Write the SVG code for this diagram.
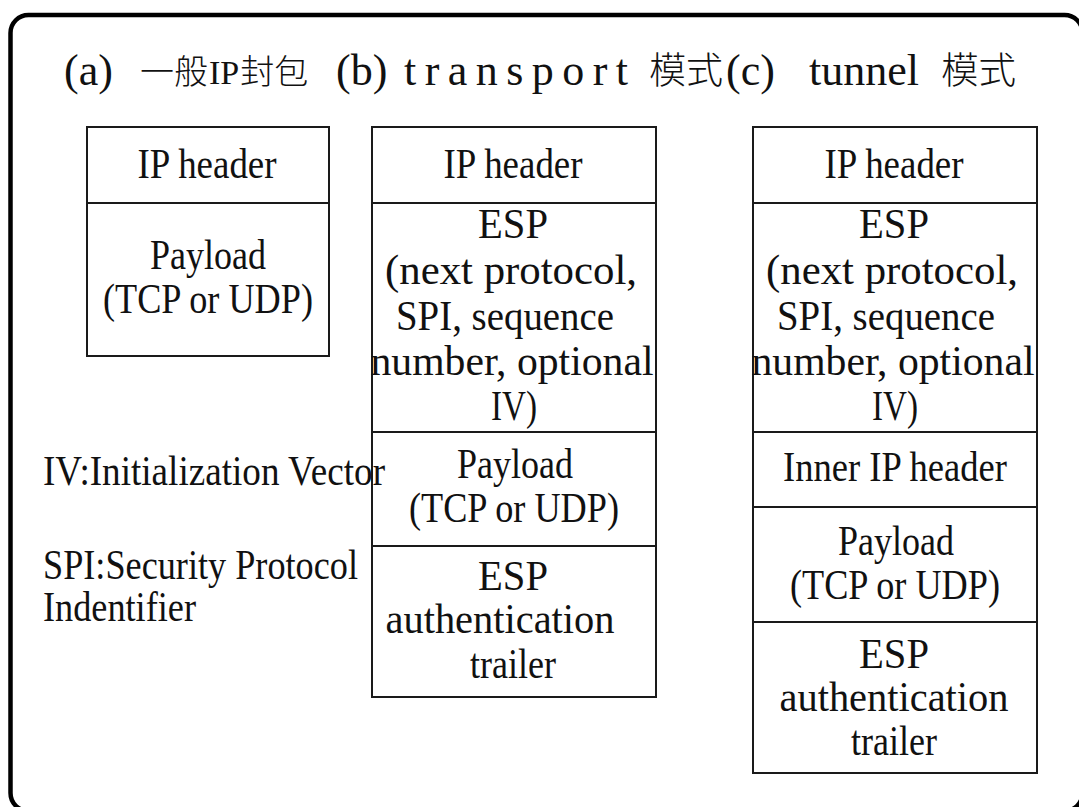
<svg xmlns="http://www.w3.org/2000/svg" width="1079" height="807" viewBox="0 0 1079 807">
  <style>
    .frame { fill: none; stroke: #000; stroke-width: 4.5; }
    .box { fill: none; stroke: #1a1a1a; stroke-width: 2; }
    .lbl { font-family: "Liberation Serif", "Times New Roman", serif; font-size: 42px; fill: #111; text-anchor: middle; }
    .note { font-family: "Liberation Serif", "Times New Roman", serif; font-size: 42px; fill: #111; }
    .tl { font-family: "Liberation Serif", "Times New Roman", serif; font-size: 44px; fill: #111; }
    .tc { font-family: "Noto Sans CJK TC", "Noto Sans CJK SC", sans-serif; font-size: 37px; fill: #111; font-weight: 300; }
    .tip { font-family: "Liberation Serif", "Times New Roman", serif; font-size: 34px; font-weight: normal; }
  </style>
  <rect width="1079" height="807" fill="#fff"/>

  <!-- outer rounded frame -->
  <rect class="frame" x="10.5" y="15" width="1072" height="796" rx="18" ry="18"/>

  <!-- title line -->
  <g id="title">
    <text class="tl" x="64" y="85">(a)</text>
    <text class="tc" x="140" y="84" style="font-size:34px">一般<tspan class="tip" dx="1">IP</tspan><tspan dx="1">封包</tspan></text>
    <text class="tl" x="336" y="85">(b)</text>
    <text class="tl" x="404" y="85" textLength="224" lengthAdjust="spacing">transport</text>
    <text class="tc" x="649" y="84" textLength="74" lengthAdjust="spacingAndGlyphs">模式</text>
    <text class="tl" x="726" y="85">(c)</text>
    <text class="tl" x="809" y="85">tunnel</text>
    <text class="tc" x="941" y="84" textLength="75" lengthAdjust="spacingAndGlyphs">模式</text>
  </g>

  <!-- (a) plain IP packet -->
  <g id="packet-a">
    <rect class="box" x="87" y="127" width="242" height="229"/>
    <line class="box" x1="87" y1="203" x2="329" y2="203"/>
    <text class="lbl" x="207" y="178" textLength="139" lengthAdjust="spacingAndGlyphs">IP header</text>
    <text class="lbl" x="208" y="269" textLength="116" lengthAdjust="spacingAndGlyphs">Payload</text>
    <text class="lbl" x="208" y="313" textLength="210" lengthAdjust="spacingAndGlyphs">(TCP or UDP)</text>
  </g>

  <!-- (b) transport mode -->
  <g id="packet-b">
    <rect class="box" x="372" y="127" width="284" height="570"/>
    <line class="box" x1="372" y1="203" x2="656" y2="203"/>
    <line class="box" x1="372" y1="432" x2="656" y2="432"/>
    <line class="box" x1="372" y1="546" x2="656" y2="546"/>
    <text class="lbl" x="513" y="178" textLength="139" lengthAdjust="spacingAndGlyphs">IP header</text>
    <text class="lbl" x="513" y="238" textLength="70" lengthAdjust="spacingAndGlyphs">ESP</text>
    <text class="lbl" x="511" y="284" textLength="252" lengthAdjust="spacingAndGlyphs">(next protocol,</text>
    <text class="lbl" x="505" y="330" textLength="218" lengthAdjust="spacingAndGlyphs">SPI, sequence</text>
    <text class="lbl" x="512" y="375" textLength="283" lengthAdjust="spacingAndGlyphs">number, optional</text>
    <text class="lbl" x="514" y="420" textLength="46" lengthAdjust="spacingAndGlyphs">IV)</text>
    <text class="lbl" x="515" y="478" textLength="116" lengthAdjust="spacingAndGlyphs">Payload</text>
    <text class="lbl" x="514" y="522" textLength="210" lengthAdjust="spacingAndGlyphs">(TCP or UDP)</text>
    <text class="lbl" x="513" y="590" textLength="70" lengthAdjust="spacingAndGlyphs">ESP</text>
    <text class="lbl" x="500" y="633" textLength="229" lengthAdjust="spacingAndGlyphs">authentication</text>
    <text class="lbl" x="513" y="678" textLength="86" lengthAdjust="spacingAndGlyphs">trailer</text>
  </g>

  <!-- (c) tunnel mode -->
  <g id="packet-c">
    <rect class="box" x="753" y="127" width="284" height="646"/>
    <line class="box" x1="753" y1="203" x2="1037" y2="203"/>
    <line class="box" x1="753" y1="432" x2="1037" y2="432"/>
    <line class="box" x1="753" y1="507" x2="1037" y2="507"/>
    <line class="box" x1="753" y1="622" x2="1037" y2="622"/>
    <text class="lbl" x="894" y="178" textLength="139" lengthAdjust="spacingAndGlyphs">IP header</text>
    <text class="lbl" x="894" y="238" textLength="70" lengthAdjust="spacingAndGlyphs">ESP</text>
    <text class="lbl" x="892" y="284" textLength="252" lengthAdjust="spacingAndGlyphs">(next protocol,</text>
    <text class="lbl" x="886" y="330" textLength="218" lengthAdjust="spacingAndGlyphs">SPI, sequence</text>
    <text class="lbl" x="893" y="375" textLength="283" lengthAdjust="spacingAndGlyphs">number, optional</text>
    <text class="lbl" x="895" y="420" textLength="46" lengthAdjust="spacingAndGlyphs">IV)</text>
    <text class="lbl" x="895" y="481" textLength="224" lengthAdjust="spacingAndGlyphs">Inner IP header</text>
    <text class="lbl" x="896" y="555" textLength="116" lengthAdjust="spacingAndGlyphs">Payload</text>
    <text class="lbl" x="895" y="599" textLength="210" lengthAdjust="spacingAndGlyphs">(TCP or UDP)</text>
    <text class="lbl" x="894" y="668" textLength="70" lengthAdjust="spacingAndGlyphs">ESP</text>
    <text class="lbl" x="894" y="711" textLength="229" lengthAdjust="spacingAndGlyphs">authentication</text>
    <text class="lbl" x="894" y="755" textLength="86" lengthAdjust="spacingAndGlyphs">trailer</text>
  </g>

  <!-- abbreviation notes -->
  <g id="notes">
    <text class="note" x="43" y="485" textLength="342" lengthAdjust="spacingAndGlyphs">IV:Initialization Vector</text>
    <text class="note" x="43" y="579" textLength="315" lengthAdjust="spacingAndGlyphs">SPI:Security Protocol</text>
    <text class="note" x="43" y="621" textLength="153" lengthAdjust="spacingAndGlyphs">Indentifier</text>
  </g>
</svg>
